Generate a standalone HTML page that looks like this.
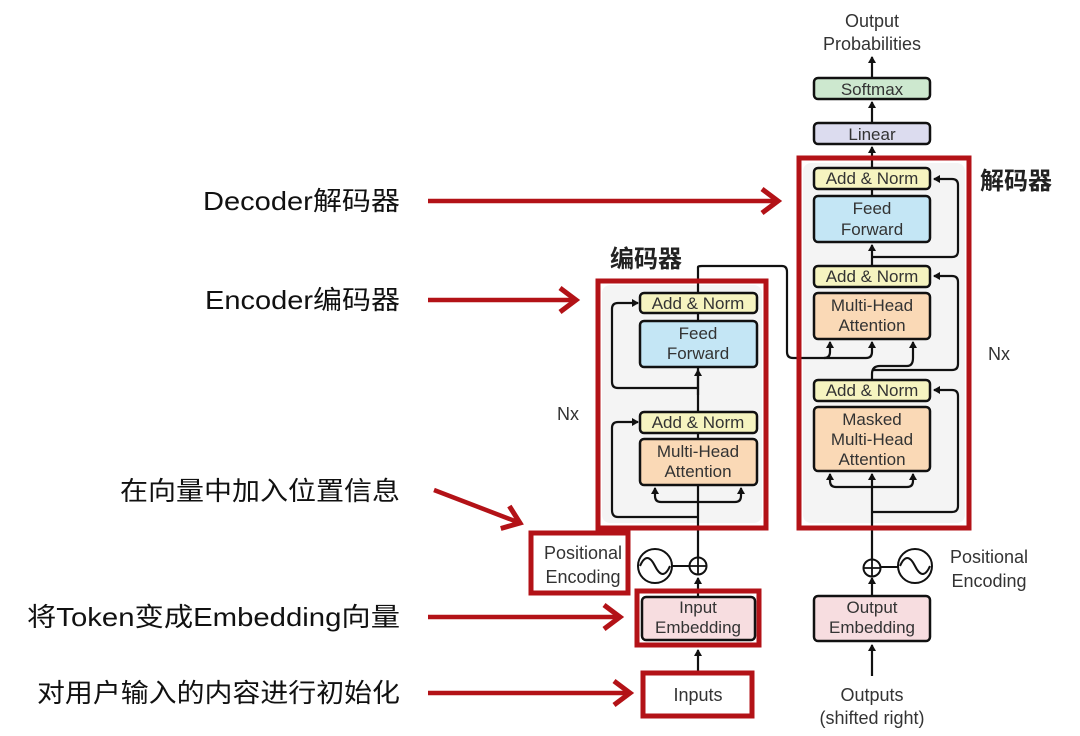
<!DOCTYPE html>
<html><head><meta charset="utf-8"><style>
html,body{margin:0;padding:0;background:#fff;}
svg{display:block;}
text{font-family:"Liberation Sans","Noto Sans CJK SC",sans-serif;}
.d{font-size:17px;fill:#333;text-anchor:middle;}
.l{font-size:26px;fill:#111;}
.box{stroke:#111;stroke-width:2.5;}
.ln{stroke:#111;stroke-width:2.2;fill:none;}
.red{stroke:#b31217;stroke-width:5;fill:none;}
.ra{stroke:#b31217;stroke-width:4.5;fill:none;}
</style></head><body>
<svg width="1080" height="736" viewBox="0 0 1080 736" xmlns="http://www.w3.org/2000/svg">
<defs>
<marker id="a" markerWidth="8" markerHeight="8" refX="6" refY="4" orient="auto" markerUnits="userSpaceOnUse"><path d="M0,0 L7,4 L0,8 z" fill="#111"/></marker>
<marker id="r" markerWidth="24" markerHeight="28" refX="18" refY="14" orient="auto" markerUnits="userSpaceOnUse"><path d="M2,2 L18,14 L2,26" fill="none" stroke="#b31217" stroke-width="5"/></marker>
</defs>
<rect x="602" y="285" width="160" height="238" rx="8" fill="#f4f4f4"/>
<rect x="803" y="163" width="162" height="360" rx="8" fill="#f4f4f4"/>

<!-- Encoder lines -->
<path class="ln" d="M698,672 V650" marker-end="url(#a)"/>
<path class="ln" d="M698,597 V578" marker-end="url(#a)"/>
<path class="ln" d="M698,557 V267 Q698,266 702,266 H782 Q787,266 787,272 V352 Q787,358 793,358 H824 Q830,358 830,352 V342" marker-end="url(#a)"/>
<path class="ln" d="M824,358 H866 Q872,358 872,352 V342" marker-end="url(#a)"/>
<path class="ln" d="M698,502 H661 Q655,502 655,496 V488" marker-end="url(#a)"/>
<path class="ln" d="M698,502 H735 Q741,502 741,496 V488" marker-end="url(#a)"/>
<path class="ln" d="M698,517 H618 Q612,517 612,510 V428 Q612,422 618,422 H638" marker-end="url(#a)"/>
<path class="ln" d="M698,388 H618 Q612,388 612,382 V309 Q612,303 618,303 H638" marker-end="url(#a)"/>
<path class="ln" d="M698,395 V370" marker-end="url(#a)"/>
<circle cx="655" cy="566" r="17" fill="#fff" stroke="#111" stroke-width="2"/>
<path d="M640,566 Q647,550 655,566 Q663,582 670,566" fill="none" stroke="#111" stroke-width="2"/>
<line x1="672" y1="566" x2="689" y2="566" stroke="#111" stroke-width="2"/>
<circle cx="698" cy="566" r="8.5" fill="#fff" stroke="#111" stroke-width="2"/>
<path d="M690,566 H706 M698,558 V574" stroke="#111" stroke-width="1.8"/>

<rect class="box" x="640" y="293" width="117" height="20" rx="4" fill="#f6f4c0"/>
<text class="d" x="698" y="309">Add &amp; Norm</text>
<rect class="box" x="640" y="321" width="117" height="46" rx="4" fill="#c4e6f5"/>
<text class="d" x="698" y="339">Feed</text><text class="d" x="698" y="359">Forward</text>
<rect class="box" x="640" y="412" width="117" height="21" rx="4" fill="#f6f4c0"/>
<text class="d" x="698" y="428">Add &amp; Norm</text>
<rect class="box" x="640" y="439" width="117" height="46" rx="4" fill="#fad9b6"/>
<text class="d" x="698" y="457">Multi-Head</text><text class="d" x="698" y="477">Attention</text>
<rect class="box" x="642" y="597" width="113" height="43" rx="4" fill="#f7dde0"/>
<text class="d" x="698" y="613">Input</text><text class="d" x="698" y="633">Embedding</text>
<text class="d" x="698" y="701" style="font-size:18px">Inputs</text>
<text class="d" x="583" y="559" style="font-size:18px">Positional</text><text class="d" x="583" y="583" style="font-size:18px">Encoding</text>
<text class="d" x="568" y="420" style="font-size:18px">Nx</text>

<!-- Decoder lines -->
<path class="ln" d="M872,676 V645" marker-end="url(#a)"/>
<path class="ln" d="M872,595 V578" marker-end="url(#a)"/>
<path class="ln" d="M872,559 V474" marker-end="url(#a)"/>
<path class="ln" d="M872,487 H836 Q830,487 830,481 V474" marker-end="url(#a)"/>
<path class="ln" d="M872,487 H907 Q913,487 913,481 V474" marker-end="url(#a)"/>
<path class="ln" d="M872,512 H952 Q958,512 958,506 V396 Q958,390 952,390 H934" marker-end="url(#a)"/>
<path class="ln" d="M872,380 V374 Q872,366 880,366 H907 Q913,366 913,358 V342" marker-end="url(#a)"/>
<path class="ln" d="M872,370 H952 Q958,370 958,364 V282 Q958,276 952,276 H934" marker-end="url(#a)"/>
<path class="ln" d="M872,266 V245" marker-end="url(#a)"/>
<path class="ln" d="M872,257 H952 Q958,257 958,251 V185 Q958,179 952,179 H934" marker-end="url(#a)"/>
<path class="ln" d="M872,196 V189 M872,167 V147" marker-end="url(#a)"/>
<path class="ln" d="M872,122 V102" marker-end="url(#a)"/>
<path class="ln" d="M872,78 V57" marker-end="url(#a)"/>
<circle cx="872" cy="568" r="8.5" fill="#fff" stroke="#111" stroke-width="2"/>
<path d="M864,568 H880 M872,560 V576" stroke="#111" stroke-width="1.8"/>
<line x1="881" y1="567" x2="898" y2="567" stroke="#111" stroke-width="2"/>
<circle cx="915" cy="566" r="17" fill="#fff" stroke="#111" stroke-width="2"/>
<path d="M900,566 Q907,550 915,566 Q923,582 930,566" fill="none" stroke="#111" stroke-width="2"/>

<rect class="box" x="814" y="78" width="116" height="21" rx="4" fill="#cde8cf"/>
<text class="d" x="872" y="95">Softmax</text>
<rect class="box" x="814" y="123" width="116" height="21" rx="4" fill="#dcdcef"/>
<text class="d" x="872" y="140">Linear</text>
<rect class="box" x="814" y="168" width="116" height="21" rx="4" fill="#f6f4c0"/>
<text class="d" x="872" y="184">Add &amp; Norm</text>
<rect class="box" x="814" y="196" width="116" height="46" rx="4" fill="#c4e6f5"/>
<text class="d" x="872" y="214">Feed</text><text class="d" x="872" y="235">Forward</text>
<rect class="box" x="814" y="266" width="116" height="21" rx="4" fill="#f6f4c0"/>
<text class="d" x="872" y="282">Add &amp; Norm</text>
<rect class="box" x="814" y="293" width="116" height="46" rx="4" fill="#fad9b6"/>
<text class="d" x="872" y="311">Multi-Head</text><text class="d" x="872" y="331">Attention</text>
<rect class="box" x="814" y="380" width="116" height="21" rx="4" fill="#f6f4c0"/>
<text class="d" x="872" y="396">Add &amp; Norm</text>
<rect class="box" x="814" y="407" width="116" height="64" rx="4" fill="#fad9b6"/>
<text class="d" x="872" y="425">Masked</text><text class="d" x="872" y="445">Multi-Head</text><text class="d" x="872" y="465">Attention</text>
<rect class="box" x="814" y="596" width="116" height="45" rx="4" fill="#f7dde0"/>
<text class="d" x="872" y="613">Output</text><text class="d" x="872" y="633">Embedding</text>
<text class="d" x="872" y="701" style="font-size:18px">Outputs</text><text class="d" x="872" y="724" style="font-size:18px">(shifted right)</text>
<text class="d" x="872" y="27" style="font-size:18px">Output</text><text class="d" x="872" y="50" style="font-size:18px">Probabilities</text>
<text class="d" x="989" y="563" style="font-size:18px">Positional</text><text class="d" x="989" y="587" style="font-size:18px">Encoding</text>
<text class="d" x="999" y="360" style="font-size:18px">Nx</text>

<rect class="red" x="598" y="281" width="168" height="247"/>
<rect class="red" x="799" y="158" width="170" height="370"/>
<rect class="red" x="531" y="533" width="97" height="60"/>
<rect class="red" x="637" y="591" width="122" height="54"/>
<rect class="red" x="643" y="673" width="109" height="43"/>
<text x="610" y="267" style="font-size:24px;font-weight:bold;fill:#222">编码器</text>
<text x="980" y="189" style="font-size:24px;font-weight:bold;fill:#222">解码器</text>

<text class="l" x="203" y="210" textLength="197" lengthAdjust="spacingAndGlyphs">Decoder解码器</text>
<path class="ra" d="M428,201 H778" marker-end="url(#r)"/>
<text class="l" x="205" y="309" textLength="195" lengthAdjust="spacingAndGlyphs">Encoder编码器</text>
<path class="ra" d="M428,300 H576" marker-end="url(#r)"/>
<text class="l" x="120" y="500" textLength="280" lengthAdjust="spacingAndGlyphs">在向量中加入位置信息</text>
<path class="ra" d="M434,490 L520,523" marker-end="url(#r)"/>
<text class="l" x="27" y="626" textLength="373" lengthAdjust="spacingAndGlyphs">将Token变成Embedding向量</text>
<path class="ra" d="M428,617 H620" marker-end="url(#r)"/>
<text class="l" x="37" y="702" textLength="363" lengthAdjust="spacingAndGlyphs">对用户输入的内容进行初始化</text>
<path class="ra" d="M428,693 H630" marker-end="url(#r)"/>
</svg>
</body></html>
